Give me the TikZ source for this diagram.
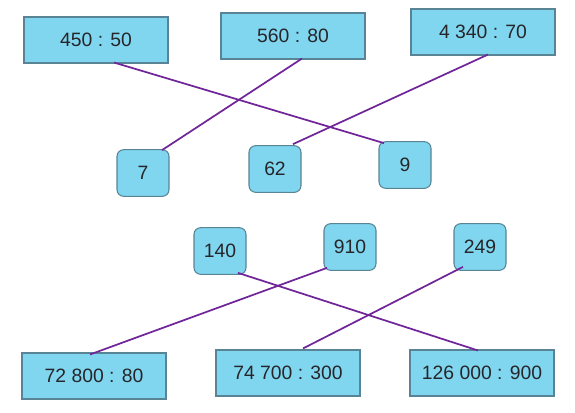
\documentclass[tikz,border=0pt]{standalone}
\usepackage{fontspec}
\setmainfont{Liberation Sans}
\usetikzlibrary{calc}
\definecolor{boxfill}{RGB}{128,214,239}
\definecolor{boxline}{RGB}{88,132,150}
\definecolor{linkcol}{RGB}{112,38,152}
\definecolor{numcol}{RGB}{38,38,42}
\tikzset{
  bigbox/.style={draw=boxline, fill=boxfill, line width=0.8pt, minimum width=108pt, minimum height=34.5pt, inner sep=0pt, text=numcol, font=\fontsize{14.5}{17}\selectfont},
  smallbox/.style={bigbox, rounded corners=5pt, minimum width=39pt, minimum height=35pt},
  link/.style={draw=linkcol, line width=1.3pt}
}
\begin{document}
\begin{tikzpicture}[x=0.75pt, y=-0.75pt]
        \useasboundingbox (0,0) rectangle (575,412);
        %nodes
        \node[bigbox] (q450) at (96,40) {450 : 50};
        \node[bigbox] (q560) at (293,36) {560 : 80};
        \node[bigbox] (q4340) at (483,32) {4 340 : 70};
        \node[smallbox] (r7) at (143,173) {7};
        \node[smallbox] (r62) at (275,169) {62};
        \node[smallbox] (r9) at (405,165) {9};
        \node[smallbox] (s140) at (220,251) {140};
        \node[smallbox] (s910) at (350,247) {910};
        \node[smallbox] (s249) at (480,247) {249};
        \node[bigbox] (t72800) at (94,376) {72 800 : 80};
        \node[bigbox] (t74700) at (288,373) {74 700 : 300};
        \node[bigbox] (t126000) at (482,373) {126 000 : 900};
        %edges
        \path [link] ($(q450.south)+(18,-1)$) to ($(r9.north)+(-21,2)$);
        \path [link] ($(q560.south)+(9,-1)$) to ($(r7.north)+(19,1)$);
        \path [link] ($(q4340.south)+(5,-1)$) to ($(r62.north)+(18,-1)$);
        \path [link] ($(s140.south)+(18,-2)$) to ($(t126000.north)+(-4,1)$);
        \path [link] ($(s910.south)+(-23,-3)$) to ($(t72800.north)+(-4,2)$);
        \path [link] ($(s249.south)+(-17,-4)$) to ($(t74700.north)+(15,-1)$);
      \end{tikzpicture}
\end{document}
